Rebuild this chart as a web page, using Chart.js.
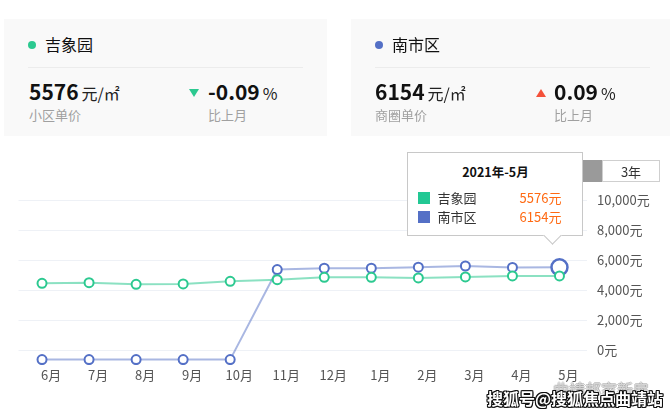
<!DOCTYPE html>
<html>
<head>
<meta charset="utf-8">
<script src="https://cdn.jsdelivr.net/npm/chart.js@4/dist/chart.umd.min.js"></script>
<style>
    body { margin: 0; width: 670px; height: 412px; overflow: hidden; background: #fff; font-family: "Noto Sans CJK SC", sans-serif; position: relative; }
    #chart { position: absolute; left: 0; top: 0; }
    .card { position: absolute; top: 19px; width: 323px; height: 117px; background: #f9f9f9; }
    .dot { position: absolute; left: 24px; top: 22px; width: 8px; height: 8px; border-radius: 50%; }
    .title { position: absolute; left: 41px; top: 17px; font-size: 16px; line-height: 16px; color: #111; }
    .divider { position: absolute; left: 24px; top: 48px; width: 275px; height: 1px; background: #ececec; }
    .value { position: absolute; top: 62px; line-height: 21px; white-space: nowrap; color: #111; }
    .value b { font-size: 21px; font-weight: bold; }
    .value span { font-size: 16px; margin-left: 3px; color: #222; }
    .sub { position: absolute; top: 89px; font-size: 13px; line-height: 14px; color: #a0a0a0; }
    .tri { position: absolute; left: 185px; width: 0; height: 0; border-left: 5px solid transparent; border-right: 5px solid transparent; }
    .tri.down { top: 70px; border-top: 8px solid #2cc990; }
    .tri.up { top: 70px; border-bottom: 8px solid #f4513a; }
    .btn { position: absolute; top: 160px; height: 22px; line-height: 22px; font-size: 13px; text-align: center; box-sizing: border-box; }
    #tip { position: absolute; width: 176px; height: 84px; box-sizing: border-box; background: #fff; border: 1px solid #c8c8c8; font-size: 13px; color: #333; z-index: 5; }
    #tip .t { position: absolute; left: 0; right: 0; top: 9px; text-align: center; font-weight: bold; font-size: 12.5px; color: #111; }
    #tip .row { position: absolute; left: 10px; right: 21px; height: 18px; line-height: 18px; }
    #tip .sw { position: absolute; left: 0; top: 3px; width: 12px; height: 12px; }
    #tip .nm { position: absolute; left: 19px; }
    #tip .vl { position: absolute; right: 0; color: #ff6a13; }
    #tip .arrow { position: absolute; width: 12px; height: 12px; background: #fff; border-right: 1px solid #c8c8c8; border-bottom: 1px solid #c8c8c8; transform: rotate(45deg); bottom: -7px; }
    .wm { position: absolute; white-space: nowrap; font-weight: bold; z-index: 6; }
</style>
</head>
<body>
<canvas id="chart" width="670" height="412"></canvas>

<div class="card" style="left:4px">
    <div class="dot" style="background:#2cc990"></div>
    <div class="title" id="name0"></div>
    <div class="divider"></div>
    <div class="value" style="left:25px"><b id="price0"></b><span>元/㎡</span></div>
    <div class="sub" style="left:25px">小区单价</div>
    <div class="tri down"></div>
    <div class="value" style="left:204px"><b id="chg0"></b><span>%</span></div>
    <div class="sub" style="left:204px">比上月</div>
</div>
<div class="card" style="left:351px">
    <div class="dot" style="background:#5470c6"></div>
    <div class="title" id="name1"></div>
    <div class="divider"></div>
    <div class="value" style="left:24px"><b id="price1"></b><span>元/㎡</span></div>
    <div class="sub" style="left:24px">商圈单价</div>
    <div class="tri up"></div>
    <div class="value" style="left:203px"><b id="chg1"></b><span>%</span></div>
    <div class="sub" style="left:203px">比上月</div>
</div>

<div class="btn" style="left:544px;width:58px;background:#9a9a9a;color:#fff">1年</div>
<div class="btn" style="left:602px;width:58px;border:1px solid #cfcfcf;color:#333">3年</div>

<div id="tip"></div>

<div class="wm" style="left:553px;top:377px;font-size:16px;font-weight:normal;color:rgba(255,255,255,0.5);text-shadow:1px 0 0 rgba(140,140,140,0.45),-1px 0 0 rgba(140,140,140,0.45),0 1px 0 rgba(140,140,140,0.45),0 -1px 0 rgba(140,140,140,0.45)">曲靖邦家新房</div>
<div class="wm" style="left:487px;top:386px;font-size:16px;color:#fff;text-shadow:1px 0 0 #111,-1px 0 0 #111,0 1px 0 #111,0 -1px 0 #111,1px 1px 0 #111,-1px -1px 0 #111,1px -1px 0 #111,-1px 1px 0 #111">搜狐号@搜狐焦点曲靖站</div>

<script>
const seriesNames = ['吉象园', '南市区'];
const categories = ['6月', '7月', '8月', '9月', '10月', '11月', '12月', '1月', '2月', '3月', '4月', '5月'];
const tipYear = '2021年';
const jixiangyuan = [5083, 5129, 5016, 5043, 5216, 5329, 5483, 5483, 5443, 5509, 5581, 5576];
const nanshiqu = [0, 0, 0, 0, 0, 6000, 6090, 6090, 6160, 6240, 6148, 6154];
const monthChange = [-0.09, 0.09];
const yTicks = [0, 2000, 4000, 6000, 8000, 10000];

// the grid/labels sit a bit above the plotted zero in the original
const axisShift = 640;
const axisMin = -1000, axisMax = 10000;

const green = '#2cc990', blue = '#5470c6';
const font = "'Noto Sans CJK SC', sans-serif";

seriesNames.forEach((n, i) => { document.getElementById('name' + i).textContent = n; });
document.getElementById('price0').textContent = jixiangyuan[jixiangyuan.length - 1];
document.getElementById('price1').textContent = nanshiqu[nanshiqu.length - 1];
document.getElementById('chg0').textContent = monthChange[0].toFixed(2);
document.getElementById('chg1').textContent = monthChange[1].toFixed(2);

const last = categories.length - 1;

function externalTip(context) {
    const tip = context.tooltip;
    const el = document.getElementById('tip');
    if (!tip.dataPoints || !tip.dataPoints.length) { el.style.display = 'none'; return; }
    const pts = tip.dataPoints;
    const anchor = pts[pts.length - 1].element;
    el.style.display = 'block';
    el.style.left = (anchor.x - 152) + 'px';
    el.style.top = (anchor.y - 115) + 'px';
    let html = '<div class="t">' + tipYear + '-' + pts[0].label + '</div>';
    pts.forEach((p, i) => {
        html += '<div class="row" style="top:' + (36 + i * 19) + 'px">' +
            '<div class="sw" style="background:' + (i === 0 ? '#22c894' : '#5470c6') + '"></div>' +
            '<div class="nm">' + p.dataset.label + '</div>' +
            '<div class="vl">' + p.raw + '元</div></div>';
    });
    html += '<div class="arrow" style="left:' + 138 + 'px"></div>';
    el.innerHTML = html;
}

const ctx = document.getElementById('chart').getContext('2d');
const chart = new Chart(ctx, {
    type: 'line',
    data: {
        labels: categories,
        datasets: [{
            label: seriesNames[0],
            data: jixiangyuan,
            yAxisID: 'y',
            borderColor: 'rgba(44, 201, 144, 0.55)',
            borderWidth: 2,
            pointBackgroundColor: '#fff',
            pointBorderColor: green,
            pointBorderWidth: 2,
            pointRadius: 4.5,
            pointHoverRadius: 4.5,
            pointHoverBorderWidth: 2,
            pointHoverBackgroundColor: '#fff',
            pointHoverBorderColor: green,
            tension: 0
        }, {
            label: seriesNames[1],
            data: nanshiqu,
            yAxisID: 'y',
            borderColor: 'rgba(84, 112, 198, 0.5)',
            borderWidth: 2,
            pointBackgroundColor: '#fff',
            pointBorderColor: blue,
            pointBorderWidth: 2,
            pointRadius: 4.5,
            pointHoverRadius: 8,
            pointHoverBorderWidth: 2.5,
            pointHoverBackgroundColor: '#fff',
            pointHoverBorderColor: blue,
            tension: 0
        }]
    },
    options: {
        responsive: false,
        animation: false,
        events: [],
        layout: { padding: { left: 18.5, top: 200, right: 0, bottom: 0 } },
        plugins: {
            legend: { display: false },
            tooltip: { enabled: false, external: externalTip }
        },
        scales: {
            x: {
                offset: true,
                grid: { display: false },
                border: { display: false },
                ticks: { color: '#555', font: { family: font, size: 13 }, labelOffset: 9, padding: -6, maxRotation: 0, autoSkip: false },
                afterFit: (s) => { s.height = 47; }
            },
            y: {
                display: false,
                min: axisMin + axisShift,
                max: axisMax + axisShift
            },
            yAxis: {
                position: 'right',
                min: axisMin,
                max: axisMax,
                afterBuildTicks: (s) => { s.ticks = yTicks.map(v => ({ value: v })); },
                grid: { color: '#eef1f6', lineWidth: 1, tickLength: 4 },
                border: { display: false },
                ticks: {
                    color: '#555',
                    font: { family: font, size: 13 },
                    padding: 10,
                    callback: (v) => v.toLocaleString('en-US') + '元'
                },
                afterFit: (s) => { s.width = 87; }
            }
        }
    }
});

chart.setActiveElements([{ datasetIndex: 0, index: last }, { datasetIndex: 1, index: last }]);
chart.tooltip.setActiveElements([{ datasetIndex: 0, index: last }, { datasetIndex: 1, index: last }], { x: 0, y: 0 });
chart.update();
</script>
</body>
</html>
